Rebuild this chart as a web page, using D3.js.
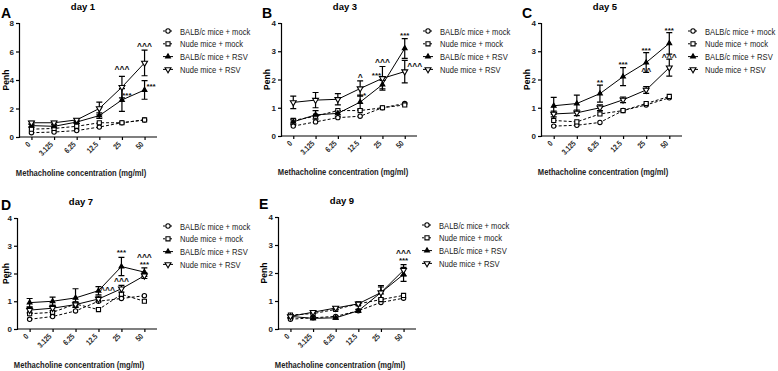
<!DOCTYPE html>
<html>
<head>
<meta charset="utf-8">
<script src="https://cdn.jsdelivr.net/npm/d3@7"></script>
<style>
  body { margin: 0; background: #fff; }
  svg { font-family: "Liberation Sans", Arial, sans-serif; }
</style>
</head>
<body>
<svg id="chart" width="778" height="371"></svg>
<script>
// Categories and series names
const doses = ["0", "3.125", "6.25", "12.5", "25", "50"];
const seriesNames = ["BALB/c mice + mock", "Nude mice + mock", "BALB/c mice + RSV", "Nude mice + RSV"];

// Day 1 (panel A)
const day1BalbMock = [0.3, 0.35, 0.45, 0.7, 1.0, 1.2];
const day1NudeMock = [0.55, 0.6, 0.75, 1.0, 1.0, 1.2];
const day1BalbRsv  = [0.8, 0.75, 1.05, 1.5, 2.6, 3.3];
const day1NudeRsv  = [1.0, 1.0, 1.2, 2.0, 3.5, 5.2];
const day1BalbRsvErr = [0.1, 0.1, 0.1, 0.2, 0.8, 0.65];
const day1NudeRsvErr = [0.1, 0.1, 0.1, 0.45, 0.75, 0.9];

// Day 3 (panel B)
const day3BalbMock = [0.35, 0.5, 0.65, 0.7, 1.0, 1.15];
const day3NudeMock = [0.55, 0.7, 0.9, 0.9, 1.0, 1.1];
const day3BalbRsv  = [0.5, 0.75, 0.8, 1.2, 1.82, 3.1];
const day3NudeRsv  = [1.19, 1.27, 1.3, 1.68, 2.04, 2.28];
const day3BalbRsvErr = [0.1, 0.15, 0.1, 0.25, 0.15, 0.35];
const day3NudeRsvErr = [0.22, 0.27, 0.2, 0.27, 0.42, 0.4];

// Day 5 (panel C)
const day5BalbMock = [0.35, 0.38, 0.48, 0.9, 1.1, 1.35];
const day5NudeMock = [0.55, 0.5, 0.78, 0.9, 1.15, 1.4];
const day5BalbRsv  = [1.07, 1.15, 1.5, 2.1, 2.6, 3.28];
const day5NudeRsv  = [0.78, 0.82, 1.0, 1.28, 1.63, 2.42];
const day5BalbRsvErr = [0.3, 0.3, 0.3, 0.32, 0.35, 0.38];
const day5NudeRsvErr = [0.1, 0.1, 0.1, 0.1, 0.12, 0.3];

// Day 7 (panel D)
const day7BalbMock = [0.35, 0.45, 0.65, 1.0, 1.1, 1.2];
const day7NudeMock = [0.55, 0.6, 0.9, 0.7, 1.25, 1.0];
const day7BalbRsv  = [0.95, 1.0, 1.12, 1.38, 2.25, 2.05];
const day7NudeRsv  = [0.68, 0.75, 0.88, 1.08, 1.45, 1.92];
const day7BalbRsvErr = [0.15, 0.15, 0.33, 0.15, 0.33, 0.15];
const day7NudeRsvErr = [0.1, 0.1, 0.1, 0.1, 0.12, 0.1];

// Day 9 (panel E)
const day9BalbMock = [0.35, 0.4, 0.45, 0.65, 0.95, 1.1];
const day9NudeMock = [0.5, 0.55, 0.7, 0.9, 1.05, 1.2];
const day9BalbRsv  = [0.45, 0.38, 0.4, 0.65, 1.3, 1.95];
const day9NudeRsv  = [0.45, 0.6, 0.75, 0.9, 1.3, 2.1];
const day9BalbRsvErr = [0.05, 0.05, 0.05, 0.05, 0.25, 0.25];
const day9NudeRsvErr = [0.05, 0.05, 0.05, 0.05, 0.2, 0.2];

// Significance marks: [dose index, y value (centre), label, x shift]
const day1Marks = [[4, 4.82, "^^^", 0], [5, 6.45, "^^^", 0], [4, 3.02, "***", 5], [5, 3.65, "***", 6.5]];
const day3Marks = [[3, 2.12, "^", 0], [3, 1.47, "*", 4.5], [4, 2.18, "***", -6], [4, 2.66, "^^^", 0], [5, 3.6, "***", 0], [5, 2.5, "^^^", 10]];
const day5Marks = [[2, 1.95, "**", 0], [3, 2.59, "***", 0], [4, 3.07, "***", 0], [5, 3.78, "***", 0], [4, 2.32, "^^", 0], [5, 2.83, "^^^", 0]];
const day7Marks = [[4, 2.81, "***", 0], [5, 2.62, "^^^", 0], [5, 2.38, "***", 0], [3, 1.43, "^^^", 9], [4, 1.75, "^^^", 0]];
const day9Marks = [[5, 2.76, "^^^", 0], [5, 2.5, "***", 0]];

const panels = [
  { letter: "A", title: "day 1", left: 19, right: 157, bottom: 137, top: 23, max: 8, ticks: [0, 2, 4, 6, 8],
    series: [day1BalbMock, day1NudeMock, day1BalbRsv, day1NudeRsv], err: [null, null, day1BalbRsvErr, day1NudeRsvErr], marks: day1Marks },
  { letter: "B", title: "day 3", left: 281, right: 417, bottom: 136, top: 23, max: 4, ticks: [0, 1, 2, 3, 4],
    series: [day3BalbMock, day3NudeMock, day3BalbRsv, day3NudeRsv], err: [null, null, day3BalbRsvErr, day3NudeRsvErr], marks: day3Marks },
  { letter: "C", title: "day 5", left: 541, right: 682, bottom: 136, top: 23, max: 4, ticks: [0, 1, 2, 3, 4],
    series: [day5BalbMock, day5NudeMock, day5BalbRsv, day5NudeRsv], err: [null, null, day5BalbRsvErr, day5NudeRsvErr], marks: day5Marks },
  { letter: "D", title: "day 7", left: 17, right: 157, bottom: 329, top: 218, max: 4, ticks: [0, 1, 2, 3, 4],
    series: [day7BalbMock, day7NudeMock, day7BalbRsv, day7NudeRsv], err: [null, null, day7BalbRsvErr, day7NudeRsvErr], marks: day7Marks },
  { letter: "E", title: "day 9", left: 278, right: 416, bottom: 329, top: 217, max: 4, ticks: [0, 1, 2, 3, 4],
    series: [day9BalbMock, day9NudeMock, day9BalbRsv, day9NudeRsv], err: [null, null, day9BalbRsvErr, day9NudeRsvErr], marks: day9Marks }
];

const symbols = [
  d3.symbol().type(d3.symbolCircle).size(15),
  d3.symbol().type(d3.symbolSquare).size(17),
  d3.symbol().type(d3.symbolTriangle).size(10),
  d3.symbol().type(d3.symbolTriangle).size(15)
];
const symFill = ["#fff", "#fff", "#000", "#fff"];
const symRotate = [0, 0, 0, 180];
const dashes = ["3,2", "3,2", null, null];

// condensed look of the original (Arial Narrow-like)
const squeeze = 0.8;

const svg = d3.select("#chart");

panels.forEach(function (p) {
  const g = svg.append("g");
  const x = d3.scalePoint().domain(doses).range([p.left, p.right]).padding(0.55);
  const y = d3.scaleLinear().domain([0, p.max]).range([p.bottom, p.top]);

  // Axes
  const yAxis = g.append("g").attr("transform", "translate(" + p.left + ",0)")
    .call(d3.axisLeft(y).tickValues(p.ticks).tickSize(3).tickPadding(2).tickFormat(d3.format("d")));
  const xAxis = g.append("g").attr("transform", "translate(0," + p.bottom + ")")
    .call(d3.axisBottom(x).tickSize(3).tickPadding(2));
  [xAxis, yAxis].forEach(function (a) {
    a.select(".domain").attr("stroke", "#000").attr("stroke-width", 1.2);
    a.selectAll(".tick line").attr("stroke", "#000").attr("stroke-width", 1.2);
    a.selectAll("text").attr("font-size", "8px").attr("font-weight", "bold").attr("fill", "#222")
      .attr("font-family", "Liberation Sans, Arial, sans-serif");
  });
  xAxis.select(".domain").attr("d", "M" + p.left + ",0H" + p.right);
  xAxis.selectAll(".tick text")
    .attr("text-anchor", "end")
    .attr("dy", null)
    .attr("transform", "translate(-1,8) rotate(-45) scale(" + squeeze + ",1)")
    .attr("y", 0).attr("x", 0);

  // Lines, error bars and markers
  p.series.forEach(function (vals, si) {
    const line = d3.line().x(function (d, i) { return x(doses[i]); }).y(function (d) { return y(d); });
    g.append("path").datum(vals).attr("d", line)
      .attr("fill", "none").attr("stroke", "#000").attr("stroke-width", 1)
      .attr("stroke-dasharray", dashes[si]);
  });
  p.series.forEach(function (vals, si) {
    const errs = p.err[si];
    if (errs) {
      vals.forEach(function (v, i) {
        const cx = x(doses[i]), y1 = y(v + errs[i]), y2 = y(v - errs[i]);
        g.append("path")
          .attr("d", "M" + cx + "," + y1 + "V" + y2 + "M" + (cx - 3) + "," + y1 + "H" + (cx + 3) + "M" + (cx - 3) + "," + y2 + "H" + (cx + 3))
          .attr("stroke", "#000").attr("stroke-width", 1.2).attr("fill", "none");
      });
    }
  });
  p.series.forEach(function (vals, si) {
    g.selectAll(null).data(vals).enter().append("path")
      .attr("d", symbols[si])
      .attr("transform", function (d, i) { return "translate(" + x(doses[i]) + "," + y(d) + ") rotate(" + symRotate[si] + ")"; })
      .attr("fill", symFill[si]).attr("stroke", "#000").attr("stroke-width", 1.1);
  });

  // Significance marks
  g.selectAll(null).data(p.marks).enter().append("text")
    .attr("x", function (d) { return x(doses[d[0]]) + d[3]; })
    .attr("y", function (d) { return y(d[1]) + 4; })
    .attr("text-anchor", "middle").attr("font-weight", "bold").attr("fill", "#111")
    .attr("font-size", function (d) { return d[2].charAt(0) === "^" ? "8.5px" : "8px"; })
    .text(function (d) { return d[2]; });

  // Titles and labels
  g.append("text").attr("x", p.left + 64).attr("y", p.top - 13)
    .attr("text-anchor", "middle").attr("font-size", "9.5px").attr("font-weight", "bold").text(p.title);
  g.append("text").attr("x", Math.max(1, p.left - 19)).attr("y", p.top < 100 ? p.top - 5 : p.top - 8)
    .attr("font-size", "14px").attr("font-weight", "bold").text(p.letter);
  g.append("text").attr("transform", "translate(" + Math.max(9, p.left - 11) + "," + ((p.top + p.bottom) / 2) + ") rotate(-90)")
    .attr("text-anchor", "middle").attr("font-size", "8.5px").attr("font-weight", "bold").text("Penh");
  g.append("text").attr("transform", "translate(" + (p.left + 62) + "," + (p.bottom + 39) + ") scale(" + squeeze + ",1)")
    .attr("text-anchor", "middle").attr("font-size", "9.5px").attr("font-weight", "bold").attr("fill", "#222")
    .text("Methacholine concentration (mg/ml)");

  // Legend
  const lx = p.right + 11, ly = p.top + 8;
  seriesNames.forEach(function (name, si) {
    const yy = ly + si * 12.8;
    g.append("path").attr("d", "M" + (lx - 5) + "," + yy + "H" + (lx + 5))
      .attr("stroke", "#000").attr("stroke-width", 1).attr("stroke-dasharray", si < 2 ? "2,1.5" : null);
    g.append("path").attr("d", symbols[si])
      .attr("transform", "translate(" + lx + "," + yy + ") rotate(" + symRotate[si] + ")")
      .attr("fill", symFill[si]).attr("stroke", "#000").attr("stroke-width", 1.1);
    g.append("text").attr("transform", "translate(" + (lx + 12) + "," + (yy + 3.5) + ") scale(" + squeeze + ",1)")
      .attr("font-size", "9.5px").attr("fill", "#222").text(name);
  });
});
</script>
</body>
</html>
